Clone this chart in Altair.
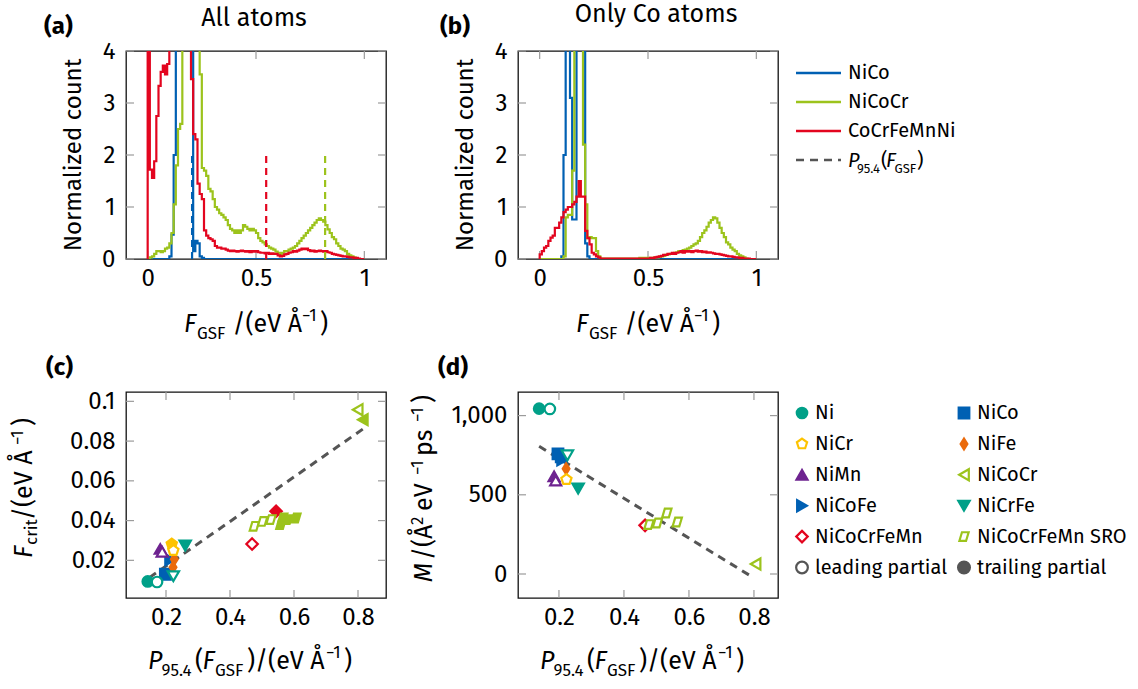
import altair as alt
import pandas as pd

FONT = "Fira Sans, Open Sans, sans-serif"
TICK_GRAY = "#9b9b9b"
DASH_GRAY = "#555555"

# ---------------- histogram data (bins of width 0.01, starting at 0.00) ----------------
BIN_WIDTH = 0.01
SERIES = ["NiCo", "NiCoCr", "CoCrFeMnNi"]
SERIES_COLORS = ["#0060b3", "#9cc31c", "#e3051f"]

# (a) all atoms
A_NICO = [
    0, 0, 0, 0, 0, 0, 0, 0, 0, 0,
    0.05, 0.47, 2.0, 6, 6, 6, 6, 6, 6, 6,
    6, 0.15, 0.35, 0.3, 0.05, 0.02, 0, 0, 0, 0,
    0, 0, 0, 0, 0, 0, 0, 0, 0, 0,
    0, 0, 0, 0, 0, 0, 0, 0, 0, 0,
    0, 0, 0, 0, 0, 0, 0, 0, 0, 0,
    0, 0, 0, 0, 0, 0, 0, 0, 0, 0,
    0, 0, 0, 0, 0, 0, 0, 0, 0, 0,
    0, 0, 0, 0, 0, 0, 0, 0, 0, 0,
    0, 0, 0, 0, 0, 0, 0, 0, 0, 0,
]
A_NICOCR = [
    0, 0.03, 0.05, 0.1, 0.15, 0.15, 0.13, 0.15, 0.2, 0.22,
    0.3, 0.5, 1.05, 1.8, 2.5, 2.6, 6, 6, 6, 6,
    6, 6, 6, 6, 3.55, 1.75, 1.7, 1.6, 1.35, 1.3,
    1.15, 1.0, 0.95, 0.88, 0.85, 0.8, 0.75, 0.65, 0.58, 0.55,
    0.5, 0.55, 0.5, 0.55, 0.65, 0.62, 0.58, 0.55, 0.58, 0.55,
    0.5, 0.4, 0.35, 0.32, 0.28, 0.25, 0.22, 0.2, 0.18, 0.14,
    0.12, 0.1, 0.12, 0.15, 0.15, 0.18, 0.2, 0.22, 0.25, 0.3,
    0.35, 0.4, 0.45, 0.5, 0.55, 0.6, 0.65, 0.7, 0.75, 0.78,
    0.75, 0.72, 0.65, 0.57, 0.5, 0.42, 0.38, 0.3, 0.25, 0.2,
    0.18, 0.15, 0.1, 0.07, 0.05, 0.03, 0.01, 0, 0, 0,
]
A_CANTOR = [
    6, 1.72, 1.56, 1.88, 2.75, 3.33, 3.6, 3.72, 3.55, 3.75,
    6, 6, 6, 6, 6, 6, 6, 6, 6, 6,
    3.46, 2.4, 2.3, 1.45, 1.25, 1.15, 0.55, 0.45, 0.4, 0.38,
    0.35, 0.25, 0.22, 0.22, 0.2, 0.2, 0.18, 0.16, 0.15, 0.16,
    0.15, 0.14, 0.15, 0.16, 0.15, 0.14, 0.15, 0.13, 0.15, 0.14,
    0.15, 0.13, 0.12, 0.12, 0.11, 0.12, 0.1, 0.11, 0.1, 0.1,
    0.07, 0.05, 0.06, 0.09, 0.1, 0.12, 0.13, 0.15, 0.14, 0.16,
    0.18, 0.2, 0.19, 0.2, 0.17, 0.15, 0.16, 0.14, 0.15, 0.16,
    0.15, 0.14, 0.15, 0.13, 0.12, 0.1, 0.09, 0.08, 0.07, 0.06,
    0.05, 0.05, 0.04, 0.03, 0.03, 0.02, 0.02, 0.01, 0, 0,
]
# (b) only Co atoms
B_NICO = [
    0, 0, 0, 0, 0, 0, 0, 0, 0, 0,
    0.05, 2.0, 6, 6, 3.1, 0.76, 0.76, 6, 6, 6,
    6, 0.3, 0.05, 0, 0, 0, 0, 0, 0, 0,
    0, 0, 0, 0, 0, 0, 0, 0, 0, 0,
    0, 0, 0, 0, 0, 0, 0, 0, 0, 0,
    0, 0, 0, 0, 0, 0, 0, 0, 0, 0,
    0, 0, 0, 0, 0, 0, 0, 0, 0, 0,
    0, 0, 0, 0, 0, 0, 0, 0, 0, 0,
    0, 0, 0, 0, 0, 0, 0, 0, 0, 0,
    0, 0, 0, 0, 0, 0, 0, 0, 0, 0,
]
B_NICOCR = [
    0, 0, 0, 0, 0, 0, 0, 0, 0, 0,
    0, 0.05, 0.8, 0.85, 0.85, 1.7, 6, 6, 6, 6,
    2.2, 1.05, 0.4, 0.42, 0.4, 0.4, 0.15, 0.05, 0.01, 0.01,
    0.01, 0.01, 0.01, 0.01, 0.01, 0.01, 0.01, 0.01, 0.01, 0.01,
    0.01, 0.01, 0.01, 0.01, 0.01, 0.01, 0.02, 0.02, 0.02, 0.02,
    0.02, 0.02, 0.02, 0.03, 0.03, 0.04, 0.05, 0.06, 0.08, 0.09,
    0.1, 0.1, 0.12, 0.13, 0.15, 0.15, 0.17, 0.18, 0.2, 0.22,
    0.25, 0.28, 0.3, 0.35, 0.42, 0.5, 0.55, 0.62, 0.7, 0.75,
    0.8, 0.78, 0.7, 0.6, 0.5, 0.42, 0.32, 0.28, 0.22, 0.18,
    0.15, 0.1, 0.07, 0.05, 0.03, 0.01, 0, 0, 0, 0,
]
B_CANTOR = [
    0.09, 0.15, 0.22, 0.25, 0.35, 0.41, 0.45, 0.6, 0.6, 0.7,
    0.8, 0.9, 0.95, 1.0, 1.0, 1.05, 1.1, 1.2, 1.5, 1.2,
    1.2, 0.54, 0.4, 0.28, 0.12, 0.09, 0.05, 0.03, 0.01, 0.01,
    0.01, 0.01, 0.01, 0.01, 0.01, 0.01, 0.01, 0.01, 0.01, 0.01,
    0.01, 0.01, 0.01, 0.01, 0.01, 0.01, 0.01, 0.01, 0.01, 0.01,
    0.01, 0.02, 0.02, 0.03, 0.04, 0.05, 0.06, 0.08, 0.08, 0.1,
    0.1, 0.12, 0.1, 0.12, 0.13, 0.15, 0.12, 0.15, 0.14, 0.15,
    0.13, 0.15, 0.16, 0.14, 0.15, 0.13, 0.14, 0.12, 0.13, 0.12,
    0.11, 0.1, 0.1, 0.09, 0.08, 0.07, 0.06, 0.05, 0.05, 0.04,
    0.03, 0.03, 0.02, 0.02, 0.01, 0.01, 0.01, 0, 0, 0,
]
# P95.4 markers in panel (a)
P954_POS = [0.205, 0.819, 0.547]
P954_TOP = [2, 2, 2]

HIST_X_DOMAIN = [-0.1, 1.1]
HIST_Y_DOMAIN = [0, 4]
HIST_X_TICKS = [0, 0.5, 1]
HIST_Y_TICKS = [0, 1, 2, 3, 4]

# ---------------- scatter data ----------------
PENTAGON = "M0,-1L0.951,-0.309L0.588,0.809L-0.588,0.809L-0.951,-0.309Z"
THIN_DIAMOND = "M0,-1L0.62,0L0,1L-0.62,0Z"
PARALLELOGRAM = "M-0.8,0.75L-0.35,-0.75L0.8,-0.75L0.35,0.75Z"

ALLOYS = ["Ni", "NiCo", "NiCr", "NiFe", "NiMn", "NiCoCr", "NiCoFe", "NiCrFe",
          "NiCoCrFeMn", "NiCoCrFeMn SRO"]
ALLOY_COLORS = ["#00a088", "#0060b3", "#fdc300", "#ea6a0c", "#6e2390", "#9cc31c",
                "#0060b3", "#00a088", "#e3051f", "#9cc31c"]
ALLOY_SHAPES = ["circle", "square", PENTAGON, THIN_DIAMOND, "triangle-up", "triangle-left",
                "triangle-right", "triangle-down", "diamond", PARALLELOGRAM]
ALLOY_SIZES = [110, 140, 160, 220, 170, 170, 170, 170, 220, 140]
PARTIALS = ["leading partial", "trailing partial"]
PARTIAL_SIZES = [110, 110]
LEGEND_FILLED = [True, True, False, True, True, False, True, True, False, False, False, True]

# panel (c): F_crit vs P95.4
C_ALLOY = ["Ni", "Ni", "NiMn", "NiMn", "NiCr", "NiCr", "NiCrFe", "NiCrFe", "NiCo", "NiCoFe",
           "NiFe", "NiFe", "NiCoCrFeMn", "NiCoCrFeMn",
           "NiCoCrFeMn SRO", "NiCoCrFeMn SRO", "NiCoCrFeMn SRO", "NiCoCrFeMn SRO",
           "NiCoCrFeMn SRO", "NiCoCrFeMn SRO", "NiCoCrFeMn SRO", "NiCoCr", "NiCoCr"]
C_LEADING = [False, True, False, True, False, True, False, True, False, False,
             False, False, True, False,
             True, True, True, False, False, False, False, True, False]
C_P954 = [0.143, 0.172, 0.182, 0.188, 0.218, 0.223, 0.26, 0.223, 0.198, 0.213,
          0.222, 0.226, 0.469, 0.544,
          0.476, 0.502, 0.528, 0.559, 0.565, 0.58, 0.606, 0.799, 0.815]
C_FCRIT = [0.0094, 0.0091, 0.0257, 0.0243, 0.0282, 0.0249, 0.0274, 0.012, 0.013, 0.0203,
           0.0165, 0.0205, 0.0282, 0.0447,
           0.0371, 0.0396, 0.0405, 0.038, 0.0413, 0.0405, 0.0413, 0.0958, 0.0908]
C_FIT_X = [0.148, 0.82]
C_FIT_Y = [0.0113, 0.0866]

# panel (d): M vs P95.4
D_ALLOY = ["Ni", "Ni", "NiMn", "NiMn", "NiCr", "NiCo", "NiCo", "NiCoFe", "NiCrFe", "NiCrFe",
           "NiFe", "NiCoCrFeMn", "NiCoCrFeMn SRO", "NiCoCrFeMn SRO", "NiCoCrFeMn SRO",
           "NiCoCrFeMn SRO", "NiCoCr"]
D_LEADING = [False, True, False, True, True, False, False, False, True, False,
             False, True, True, True, True, True, True]
D_P954 = [0.139, 0.172, 0.185, 0.19, 0.223, 0.197, 0.207, 0.21, 0.226, 0.259,
          0.222, 0.465, 0.477, 0.503, 0.532, 0.564, 0.805]
D_M = [1044, 1042, 617, 590, 596, 758, 740, 722, 749, 539,
       665, 307, 312, 322, 385, 328, 63]
D_FIT_X = [0.139, 0.80]
D_FIT_Y = [806, -25]

C_X_DOMAIN = [0.075, 0.8875]
C_Y_DOMAIN = [0.00105, 0.1047]
C_X_TICKS = [0.2, 0.4, 0.6, 0.8]
C_Y_TICKS = [0.02, 0.04, 0.06, 0.08, 0.1]
D_X_DOMAIN = [0.074, 0.874]
D_Y_DOMAIN = [-151.5, 1149]
D_X_TICKS = [0.2, 0.4, 0.6, 0.8]
D_Y_TICKS = [0, 500, 1000]

W, H1, H2 = 260, 208, 206
TL = 8  # tick length

SERIES_SCALE = alt.Scale(domain=SERIES, range=SERIES_COLORS)
KEYS = ALLOYS + PARTIALS
SHAPE_SCALE = alt.Scale(domain=KEYS, range=ALLOY_SHAPES + ["circle", "circle"])
STROKE_SCALE = alt.Scale(domain=KEYS, range=ALLOY_COLORS + [DASH_GRAY, DASH_GRAY])
FILL_SCALE = alt.Scale(domain=KEYS + ["open"], range=ALLOY_COLORS + [DASH_GRAY, DASH_GRAY, "white"])
SIZE_SCALE = alt.Scale(domain=KEYS, range=ALLOY_SIZES + PARTIAL_SIZES)

DUMMY = pd.DataFrame({"k": [0]})
MAIN, SUB = 25, 17


def txt(s, x, y, size=MAIN, angle=0, align="left", italic=False, bold=False, baseline="alphabetic"):
    kw = dict(text=s, fontSize=size, font=FONT, align=align, baseline=baseline, color="black")
    if angle:
        kw["angle"] = angle
    if italic:
        kw["fontStyle"] = "italic"
    if bold:
        kw["fontWeight"] = "bold"
    return alt.Chart(DUMMY).mark_text(**kw).encode(x=alt.value(x), y=alt.value(y))


def make_axes(xticks, yticks, xfmt, yfmt):
    common = dict(ticks=False, tickSize=0, domain=False, grid=False, labelFontSize=24,
                  labelFont=FONT, labelColor="black", title="", labelFlush=False,
                  labelOverlap=False)
    xaxis = alt.Axis(values=xticks, format=xfmt, labelPadding=7, **common)
    yaxis = alt.Axis(values=yticks, format=yfmt, labelPadding=11, **common)
    return xaxis, yaxis


def frame_layers(xticks, yticks, X, Y, h):
    dx = pd.DataFrame({"x": xticks})
    dy = pd.DataFrame({"y": yticks})
    rule = dict(color=TICK_GRAY, strokeWidth=1.2)
    bottom = alt.Chart(dx).mark_rule(**rule).encode(x=X, y=alt.value(h), y2=alt.value(h - TL))
    top = alt.Chart(dx).mark_rule(**rule).encode(x=X, y=alt.value(0), y2=alt.value(TL))
    left = alt.Chart(dy).mark_rule(**rule).encode(y=Y, x=alt.value(0), x2=alt.value(TL))
    right = alt.Chart(dy).mark_rule(**rule).encode(y=Y, x=alt.value(W), x2=alt.value(W - TL))
    return [bottom, top, left, right]


def hist_frame(values, name):
    n = len(values)
    xs = [0.0] + [round(i * BIN_WIDTH, 4) for i in range(n)] + [round(n * BIN_WIDTH, 4)]
    ys = [0.0] + list(values) + [0.0]
    return pd.DataFrame({"x": xs, "y": ys, "o": list(range(len(xs))), "series": name})


def fgsf_title(b):
    # F_GSF /(eV Å^-1)
    return [
        txt("F", 58, b, italic=True),
        txt("GSF", 71, b + 7, size=SUB),
        txt("/(eV Å", 106.5, b),
        txt("\u22121", 176, b - 11, size=SUB),
        txt(")", 194, b),
    ]


def p954_title(b):
    return [
        txt("P", 22, b, italic=True),
        txt("95.4", 35.5, b + 7, size=SUB),
        txt("(", 69, b),
        txt("F", 76.5, b, italic=True),
        txt("GSF", 89, b + 7, size=SUB),
        txt(")/(eV Å", 121, b),
        txt("\u22121", 200, b - 11, size=SUB),
        txt(")", 218, b),
    ]


def hist_panel(vals, letter, title, title_x, title_y, dashed, anchor=False):
    xs = alt.Scale(domain=HIST_X_DOMAIN, nice=False, zero=False)
    ys = alt.Scale(domain=HIST_Y_DOMAIN, nice=False, zero=False)
    xaxis, yaxis = make_axes(HIST_X_TICKS, HIST_Y_TICKS, "~g", "d")
    layers = frame_layers(HIST_X_TICKS, HIST_Y_TICKS,
                          alt.X("x:Q", scale=xs, axis=xaxis), alt.Y("y:Q", scale=ys, axis=yaxis), H1)
    for name, v in zip(SERIES, vals):
        layers.append(
            alt.Chart(hist_frame(v, name)).mark_line(
                interpolate="step-after", clip=True, strokeWidth=2.2).encode(
                x=alt.X("x:Q", scale=xs, axis=xaxis),
                y=alt.Y("y:Q", scale=ys, axis=yaxis),
                color=alt.Color("series:N", scale=SERIES_SCALE, legend=None),
                order=alt.Order("o:Q"),
            )
        )
    if dashed:
        ddf = pd.DataFrame({"series": SERIES, "x": P954_POS, "y0": [0, 0, 0], "y1": P954_TOP})
        layers.append(
            alt.Chart(ddf).mark_rule(strokeWidth=2.2, strokeDash=[7, 5]).encode(
                x=alt.X("x:Q", scale=xs, axis=xaxis),
                y=alt.Y("y0:Q", scale=ys, axis=yaxis),
                y2="y1:Q",
                color=alt.Color("series:N", scale=SERIES_SCALE, legend=None),
            )
        )
    layers += [
        txt(letter, -82 if anchor else -78, -17, size=24, bold=True),
        txt(title, title_x, title_y, size=25, align="center"),
        txt("Normalized count", -45, H1 / 2, angle=270, align="center", size=24),
    ]
    layers += fgsf_title(281)
    if anchor:
        layers.append(
            alt.Chart(DUMMY).mark_rule(strokeOpacity=0, stroke="white").encode(
                x=alt.value(-125), x2=alt.value(-124), y=alt.value(-50), y2=alt.value(-49))
        )
    return alt.layer(*layers).properties(width=W, height=H1)


def scatter_df(alloy, leading, xv, yv):
    return pd.DataFrame({
        "alloy": alloy,
        "fkey": ["open" if l else a for a, l in zip(alloy, leading)],
        "draw": [1 if l else 0 for l in leading],
        "x": xv,
        "y": yv,
    })


def scatter_panel(df, fitx, fity, xdom, ydom, xticks, yticks, yfmt, letter, ytitle):
    xs = alt.Scale(domain=xdom, nice=False, zero=False)
    ys = alt.Scale(domain=ydom, nice=False, zero=False)
    xaxis, yaxis = make_axes(xticks, yticks, ".1f", yfmt)
    X = alt.X("x:Q", scale=xs, axis=xaxis)
    Y = alt.Y("y:Q", scale=ys, axis=yaxis)
    layers = frame_layers(xticks, yticks, X, Y, H2)
    layers.append(
        alt.Chart(pd.DataFrame({"x": fitx, "y": fity})).mark_line(
            color=DASH_GRAY, strokeWidth=3, strokeDash=[8, 6]).encode(x=X, y=Y)
    )
    layers.append(
        alt.Chart(df).mark_point(opacity=1, strokeWidth=2.2).encode(
            x=X,
            y=Y,
            shape=alt.Shape("alloy:N", scale=SHAPE_SCALE, legend=None),
            stroke=alt.Stroke("alloy:N", scale=STROKE_SCALE, legend=None),
            fill=alt.Fill("fkey:N", scale=FILL_SCALE, legend=None),
            size=alt.Size("alloy:N", scale=SIZE_SCALE, legend=None),
            order=alt.Order("draw:Q"),
        )
    )
    layers.append(txt(letter, -80, -17, size=24, bold=True))
    layers += ytitle
    layers += p954_title(277)
    return alt.layer(*layers).properties(width=W, height=H2)


# ---------------- panels ----------------
pa = hist_panel([A_NICO, A_NICOCR, A_CANTOR], "(a)", "All atoms", 128, -25, True, anchor=True)
pb = hist_panel([B_NICO, B_NICOCR, B_CANTOR], "(b)", "Only Co atoms", 138, -29, False)

c_ytitle = [
    txt("F", -94, 166, angle=270, italic=True),
    txt("crit", -89, 153, angle=270, size=SUB),
    txt(" /(eV Å", -94, 128, angle=270),
    txt("\u22121", -103, 53, angle=270, size=SUB),
    txt(")", -94, 34, angle=270),
]
d_ytitle = [
    txt("M", -86, 190, angle=270, italic=True),
    txt("/(Å", -86, 168, angle=270),
    txt("2", -95, 133, angle=270, size=SUB),
    txt(" eV", -86, 119, angle=270),
    txt("\u22121", -95, 83, angle=270, size=SUB),
    txt(" ps", -86, 64, angle=270),
    txt("\u22121", -95, 30, angle=270, size=SUB),
    txt(")", -86, 11, angle=270),
]

pc = scatter_panel(scatter_df(C_ALLOY, C_LEADING, C_P954, C_FCRIT), C_FIT_X, C_FIT_Y,
                   C_X_DOMAIN, C_Y_DOMAIN, C_X_TICKS, C_Y_TICKS, ".2~f", "(c)", c_ytitle)
pd_ = scatter_panel(scatter_df(D_ALLOY, D_LEADING, D_P954, D_M), D_FIT_X, D_FIT_Y,
                    D_X_DOMAIN, D_Y_DOMAIN, D_X_TICKS, D_Y_TICKS, ",d", "(d)", d_ytitle)

# ---------------- legend 1 (histograms) ----------------
leg1_rows = alt.Scale(domain=[0, 3], range=[22, 109])
leg1_df = pd.DataFrame({"series": SERIES, "row": [0, 1, 2]})
leg1 = alt.layer(
    alt.Chart(leg1_df).mark_rule(strokeWidth=2.5).encode(
        x=alt.value(-114), x2=alt.value(-69),
        y=alt.Y("row:Q", scale=leg1_rows, axis=None),
        color=alt.Color("series:N", scale=SERIES_SCALE, legend=None)),
    alt.Chart(leg1_df).mark_text(align="left", baseline="middle", fontSize=20, font=FONT,
                                 color="black").encode(
        x=alt.value(-62), y=alt.Y("row:Q", scale=leg1_rows, axis=None), text="series:N"),
    alt.Chart(pd.DataFrame({"row": [3]})).mark_rule(
        strokeWidth=2.5, strokeDash=[8, 6], color=DASH_GRAY).encode(
        x=alt.value(-114), x2=alt.value(-69), y=alt.Y("row:Q", scale=leg1_rows, axis=None)),
    txt("P", -62, 116, size=20, italic=True),
    txt("95.4", -53, 122, size=13),
    txt("(", -29, 116, size=20),
    txt("F", -24, 116, size=20, italic=True),
    txt("GSF", -15.5, 122, size=13),
    txt(")", 7, 116, size=20),
).properties(width=100, height=H1, view=alt.ViewBackground(stroke="transparent"))

# ---------------- legend 2 (markers) ----------------
leg_keys = ALLOYS + PARTIALS
leg2_df = pd.DataFrame({
    "alloy": leg_keys,
    "fkey": [k if f else "open" for k, f in zip(leg_keys, LEGEND_FILLED)],
    "row": [i // 2 for i in range(len(leg_keys))],
    "col": [i % 2 for i in range(len(leg_keys))],
})
lx = alt.Scale(domain=[0, 1], range=[-108, 54])
lyy = alt.Scale(domain=[0, 5], range=[21, 175.5])
leg2 = alt.layer(
    alt.Chart(leg2_df).mark_point(opacity=1, strokeWidth=2.2).encode(
        x=alt.X("col:Q", scale=lx, axis=None),
        y=alt.Y("row:Q", scale=lyy, axis=None),
        shape=alt.Shape("alloy:N", scale=SHAPE_SCALE, legend=None),
        stroke=alt.Stroke("alloy:N", scale=STROKE_SCALE, legend=None),
        fill=alt.Fill("fkey:N", scale=FILL_SCALE, legend=None),
        size=alt.Size("alloy:N", scale=SIZE_SCALE, legend=None),
    ),
    alt.Chart(leg2_df).mark_text(align="left", baseline="middle", dx=13, fontSize=20,
                                 font=FONT, color="black").encode(
        x=alt.X("col:Q", scale=lx, axis=None),
        y=alt.Y("row:Q", scale=lyy, axis=None),
        text="alloy:N"),
).properties(width=100, height=H2, view=alt.ViewBackground(stroke="transparent"))

chart = alt.concat(
    pa, pb, leg1, pc, pd_, leg2,
    columns=3,
    spacing=alt.RowColnumber(row=133, column=132),
    bounds="flush",
).resolve_scale(
    x="independent", y="independent", color="independent", stroke="independent",
    fill="independent", shape="independent", size="independent",
).configure_view(
    stroke="#111111", strokeWidth=1.3
).properties(padding=0)

chart.save("out.html", embed_options={"renderer": "svg", "actions": False})
